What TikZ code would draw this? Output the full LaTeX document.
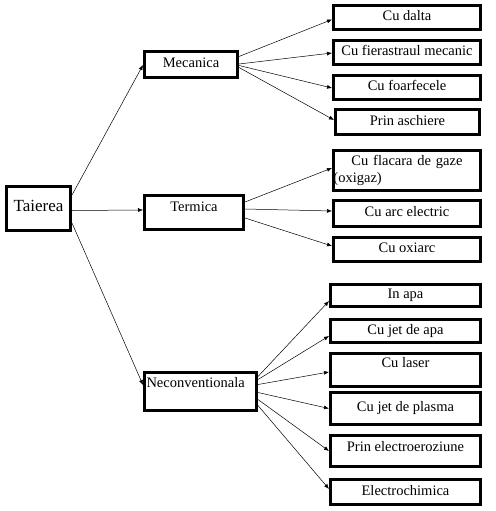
\documentclass[tikz,border=0pt]{standalone}
\usepackage{fontspec}
\setmainfont{Liberation Serif}
\usetikzlibrary{arrows.meta,positioning}
\tikzset{
  box/.style={draw, line width=2.9pt, inner sep=2pt,
              font=\fontsize{14.5}{17}\selectfont},
  tbox/.style={box, text height=10pt, text depth=#1},
  tbox/.default=4pt,
  arr/.style={-{Latex[length=5pt,width=4pt]}, line width=0.5pt}
}
\begin{document}
\begin{tikzpicture}[x=1pt,y=-1pt]
\useasboundingbox (0,0) rectangle (495,511);
% root and the three kinds
\node[tbox, minimum width=64.1pt, minimum height=44.1pt,
      font=\fontsize{17}{19}\selectfont] (taierea) at (38.5,208.5) {Taierea};
\node[tbox=5pt, minimum width=93.1pt, minimum height=26.1pt] (mecanica) at (191,64.5) {Mecanica};
\node[tbox=13pt, minimum width=99.1pt, minimum height=34.1pt] (termica) at (194,212.5) {Termica};
\node[box, minimum width=112.1pt, minimum height=38.1pt, text width=108pt,
      align=left, text height=10pt, text depth=19pt] (necon) at (200.5,391.5) {Neconventionala};
% mecanica
\node[tbox, minimum width=147.1pt, minimum height=24.1pt] (dalta) at (407,17.5) {Cu dalta};
\node[tbox, minimum width=147.1pt, minimum height=24.1pt] (fierastrau) at (407,52.5) {Cu fierastraul mecanic};
\node[tbox, minimum width=147.1pt, minimum height=24.1pt] (foarfece) at (407,87.5) {Cu foarfecele};
\node[tbox, minimum width=144.1pt, minimum height=25.1pt] (aschiere) at (407.5,122) {Prin aschiere};
% termica
\node[box, minimum width=147.1pt, minimum height=40.1pt, text width=143.1pt] (flacara) at (407,170.5)
  {{\centering Cu flacara de gaze\par}\noindent\hspace*{-2pt}(oxigaz)};
\node[tbox, minimum width=147.1pt, minimum height=26.1pt] (arc) at (407,213.5) {Cu arc electric};
\node[tbox, minimum width=147.1pt, minimum height=24.1pt] (oxiarc) at (407,249.5) {Cu oxiarc};
% neconventionala
\node[tbox, minimum width=150.1pt, minimum height=22.1pt] (inapa) at (405.5,295.5) {In apa};
\node[tbox, minimum width=150.1pt, minimum height=23.1pt] (jetapa) at (405.5,331) {Cu jet de apa};
\node[tbox=14.4pt, minimum width=150.1pt, minimum height=33.1pt] (laser) at (405.5,370) {Cu laser};
\node[tbox, minimum width=150.1pt, minimum height=32.1pt] (plasma) at (405.5,408.5) {Cu jet de plasma};
\node[tbox=8.4pt, minimum width=150.1pt, minimum height=31.1pt] (eroziune) at (405.5,451) {Prin electroeroziune};
\node[tbox, minimum width=150.1pt, minimum height=25.1pt] (chimica) at (405.5,492) {Electrochimica};
% arrows
\draw[arr] ([yshift=13.5pt]taierea.east) -- ([yshift=-0.5pt]mecanica.west);
\draw[arr] ([yshift=-2pt]taierea.east) -- ([yshift=2.5pt]termica.west);
\draw[arr] ([yshift=-14.5pt]taierea.east) -- ([yshift=6.5pt]necon.west);
\draw[arr] ([yshift=8pt]mecanica.east) -- ([yshift=-2pt]dalta.west);
\draw[arr] ([yshift=0.5pt]mecanica.east) -- ([yshift=-0.5pt]fierastrau.west);
\draw[arr] ([yshift=-1pt]mecanica.east) -- ([yshift=-0.5pt]foarfece.west);
\draw[arr] ([yshift=-3pt]mecanica.east) -- ([yshift=2pt]aschiere.west);
\draw[arr] ([yshift=10.5pt]termica.east) -- ([yshift=2.5pt]flacara.west);
\draw[arr] ([yshift=3.5pt]termica.east) -- ([yshift=2.5pt]arc.west);
\draw[arr] ([yshift=-5.5pt]termica.east) -- ([yshift=3.5pt]oxiarc.west);
\draw[arr] ([yshift=15pt]necon.east) -- ([yshift=-5.5pt]inapa.west);
\draw[arr] ([yshift=12pt]necon.east) -- ([yshift=-5pt]jetapa.west);
\draw[arr] ([yshift=7pt]necon.east) -- ([yshift=-2pt]laser.west);
\draw[arr] ([yshift=-1pt]necon.east) -- (plasma.west);
\draw[arr] ([yshift=-8pt]necon.east) -- (eroziune.west);
\draw[arr] ([yshift=-14pt]necon.east) -- ([yshift=3pt]chimica.west);
\end{tikzpicture}
\end{document}
